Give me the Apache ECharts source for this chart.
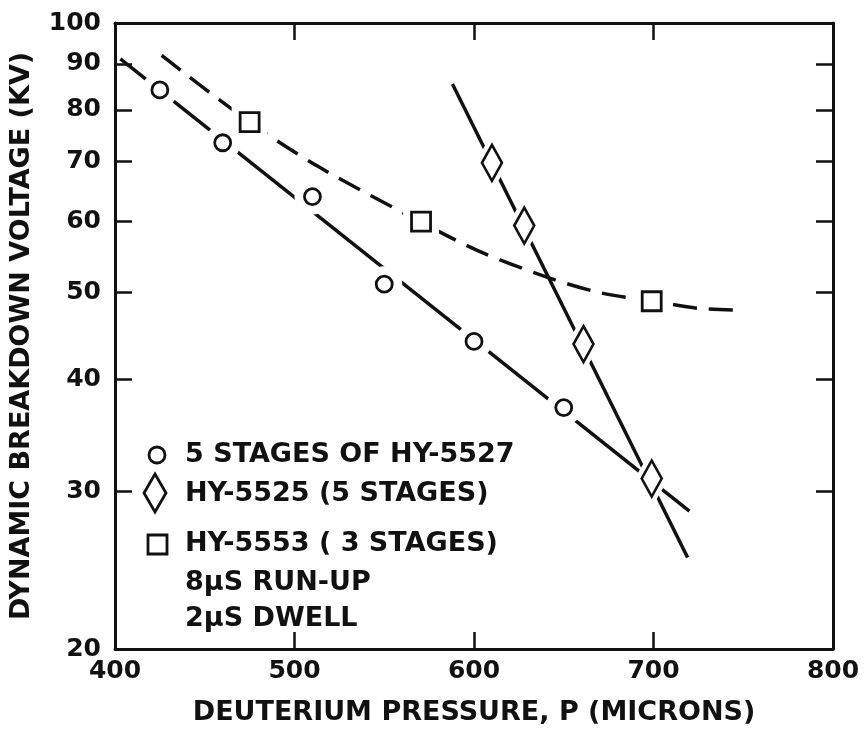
<!DOCTYPE html>
<html>
<head>
<meta charset="utf-8">
<script src="https://cdn.jsdelivr.net/npm/echarts@6/dist/echarts.min.js"></script>
<style>
  html, body { margin: 0; padding: 0; background: #fff; }
  #chart { width: 866px; height: 731px; }
</style>
</head>
<body>
<div id="chart"></div>
<script>
// pressure (microns) vs breakdown voltage (kV)
var hy5527Pts = [[425, 84.2], [460, 73.5], [510, 64], [550, 51.1], [600, 44.1], [650, 37.2]];
var hy5525Pts = [[610, 69.8], [628, 59.4], [661, 43.8], [699, 31]];
var hy5553Pts = [[475, 77.5], [570.5, 60], [699, 48.9]];

// faired curves drawn through the points
var hy5527Fit = [[403, 91.2], [720, 28.5]];
var hy5525Fit = [[588, 85.5], [719, 25.3]];
var hy5553Fit = [[426, 92], [475, 77.5], [514, 69], [570, 60], [603, 55.6], [641, 52], [670, 50], [700, 48.9], [726, 48], [750, 47.8]];

var xTicks = [400, 500, 600, 700, 800];
var yTickLabels = [20, 30, 40, 50, 60, 70, 80, 90, 100];
var yTickMarks = [30, 40, 50, 60, 70, 80, 90];

var legendLines = ["5 STAGES OF HY-5527", "HY-5525 (5 STAGES)", "HY-5553 ( 3 STAGES)", "8\u03bcS RUN-UP", "2\u03bcS DWELL"];

var font = "DejaVu Sans";
var ink = "#111";

var chart = echarts.init(document.getElementById("chart"));

var tickStyle = { show: true, inside: true, length: 17, lineStyle: { color: ink, width: 2.5 } };

function xAxisCfg(pos, showLabel) {
  return {
    type: "value", position: pos, min: 400, max: 800, interval: 100,
    axisLine: { show: true, onZero: false, lineStyle: { color: ink, width: 3 } },
    axisTick: Object.assign({}, tickStyle, { customValues: xTicks.slice(1, 4) }),
    splitLine: { show: false },
    axisLabel: { show: showLabel, customValues: xTicks, color: ink, fontFamily: font, fontWeight: "bold", fontSize: 25, margin: 10 }
  };
}
function yAxisCfg(pos, showLabel) {
  return {
    type: "log", logBase: 10, position: pos, min: 20, max: 100,
    axisLine: { show: true, onZero: false, lineStyle: { color: ink, width: 3 } },
    axisTick: Object.assign({}, tickStyle, { customValues: yTickMarks }),
    minorTick: { show: false },
    splitLine: { show: false },
    axisLabel: { show: showLabel, customValues: yTickLabels, color: ink, fontFamily: font, fontWeight: "bold", fontSize: 25, margin: 14 }
  };
}

var xBottom = xAxisCfg("bottom", true);
xBottom.name = "DEUTERIUM PRESSURE, P (MICRONS)";
xBottom.nameLocation = "middle";
xBottom.nameGap = 50;
xBottom.nameTextStyle = { color: ink, fontFamily: font, fontWeight: "bold", fontSize: 27 };

var yLeft = yAxisCfg("left", true);
yLeft.name = "DYNAMIC BREAKDOWN VOLTAGE (KV)";
yLeft.nameLocation = "middle";
yLeft.nameGap = 80;
yLeft.nameTextStyle = { color: ink, fontFamily: font, fontWeight: "bold", fontSize: 27 };

function lineSeries(data, dashed) {
  return {
    type: "line", data: data, symbol: "none", z: 2, silent: true,
    smooth: dashed ? 0.3 : false,
    lineStyle: { color: ink, width: 3.5, type: dashed ? [24, 12] : "solid", cap: "butt" }
  };
}
// white patches so the lines stop short of each marker, as in the drawing
function haloSeries(data, symbol, size) {
  return {
    type: "scatter", data: data, symbol: symbol, symbolSize: size, z: 5, silent: true,
    itemStyle: { color: "#fff", borderWidth: 0, opacity: 1 }
  };
}
function markSeries(name, data, symbol, size) {
  return {
    name: name, type: "scatter", data: data, symbol: symbol, symbolSize: size, z: 6,
    itemStyle: { color: "#fff", borderColor: ink, borderWidth: 2.8, opacity: 1 }
  };
}

// legend block drawn as graphics
var lx = 185;
var legendGraphics = [
  { type: "circle", shape: { cx: 157, cy: 455, r: 8 }, style: { fill: "#fff", stroke: ink, lineWidth: 2.8 } },
  { type: "polygon", shape: { points: [[155, 474], [166, 493], [155, 512], [144, 493]] }, style: { fill: "#fff", stroke: ink, lineWidth: 2.8 } },
  { type: "rect", shape: { x: 148, y: 535, width: 19, height: 19 }, style: { fill: "#fff", stroke: ink, lineWidth: 2.8 } }
];
var legendY = [455, 494, 544, 583, 619];
legendLines.forEach(function (t, i) {
  legendGraphics.push({
    type: "text", x: lx, y: legendY[i],
    style: { text: t, fill: ink, font: "bold 27px '" + font + "'", verticalAlign: "middle", align: "left" }
  });
});

var option = {
  backgroundColor: "#fff",
  animation: false,
  grid: { left: 115, right: 33, top: 23, bottom: 80, containLabel: false },
  xAxis: [xBottom, xAxisCfg("top", false)],
  yAxis: [yLeft, yAxisCfg("right", false)],
  series: [
    lineSeries(hy5527Fit, false),
    lineSeries(hy5525Fit, false),
    lineSeries(hy5553Fit, true),
    haloSeries(hy5527Pts, "circle", 36),
    haloSeries(hy5525Pts, "diamond", [34, 58]),
    haloSeries(hy5553Pts, "rect", 36),
    markSeries("5 STAGES OF HY-5527", hy5527Pts, "circle", 16),
    markSeries("HY-5525 (5 STAGES)", hy5525Pts, "diamond", [20, 36]),
    markSeries("HY-5553 (3 STAGES)", hy5553Pts, "rect", 19)
  ],
  graphic: legendGraphics
};

chart.setOption(option);
window.addEventListener("resize", function () { chart.resize(); });
</script>
</body>
</html>
